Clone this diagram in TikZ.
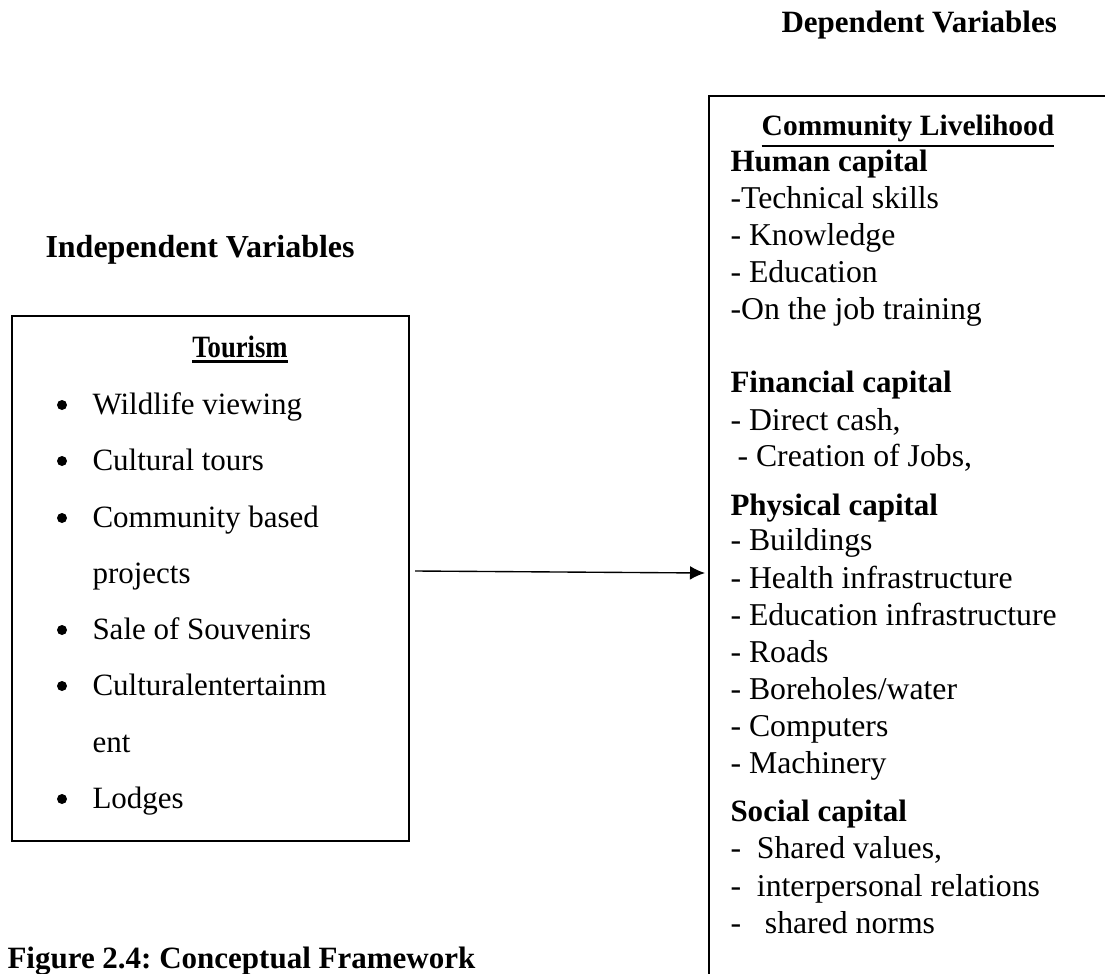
\documentclass[tikz,border=0pt]{standalone}
\usepackage{fontspec}
\setmainfont{Liberation Serif}
\usepackage{graphicx}
\usetikzlibrary{arrows.meta}
\newcommand{\myul}[3]{\leavevmode\vtop{\hbox{#3}\kern#1\hrule height #2}}
\frenchspacing
\begin{document}
\frenchspacing
\begin{tikzpicture}[x=0.4pt,y=-0.4pt,
  txt/.style={anchor=base west,inner sep=0pt,font=\fontsize{12.4}{14}\selectfont},
  rtxt/.style={anchor=base west,inner sep=0pt,font=\fontsize{12.7}{14}\selectfont},
  hd/.style={anchor=base west,inner sep=0pt,font=\fontsize{12.4}{14}\selectfont\bfseries},
  bul/.style={circle,fill=black,inner sep=0pt,minimum size=4pt},
  frame/.style={draw=black,line width=0.7pt},
  link/.style={line width=0.55pt,-{Latex[length=6pt,width=5.5pt]}}]
\useasboundingbox (0,0) rectangle (1105,973);

% headings
\node[hd] (dep) at (781,32) {Dependent Variables};
\node[hd,font=\fontsize{12.8}{14}\selectfont\bfseries] (ind) at (45,257) {Independent Variables};
\node[hd] (fig) at (7,968) {Figure 2.4: Conceptual Framework};

% left box
\node[frame,anchor=north west,minimum width=158.8pt,minimum height=210pt,inner sep=0pt] (tbox) at (11,315) {};
\node[anchor=base,inner sep=0pt,font=\fontsize{12.4}{14}\selectfont\bfseries] (tour) at (240,357)
  {\myul{1.2pt}{1.2pt}{\scalebox{0.86}[1]{Tourism}}};

\node[bul] (b1) at (62,405) {};
\node[bul] (b2) at (62,461) {};
\node[bul] (b3) at (62,518) {};
\node[bul] (b4) at (62,630) {};
\node[bul] (b5) at (62,686) {};
\node[bul] (b6) at (62,799) {};
\node[txt] (t1) at (92,414) {Wildlife viewing};
\node[txt] (t2) at (92,470) {Cultural tours};
\node[txt] (t3) at (92,527) {Community based};
\node[txt] (t3b) at (92,583) {projects};
\node[txt] (t4) at (92,639) {Sale of Souvenirs};
\node[txt] (t5) at (92,695) {Culturalentertainm};
\node[txt] (t5b) at (92,752) {ent};
\node[txt] (t6) at (92,808) {Lodges};

% right box (open on the right, runs off the page)
\coordinate (rtr) at (1120,96);
\coordinate (rtl) at (709,96);
\coordinate (rbl) at (709,990);
\draw[frame] (rtr) -- (rtl) -- (rbl);

\node[anchor=base,inner sep=0pt,font=\fontsize{11.8}{14}\selectfont\bfseries] (cl) at (908,135)
  {\myul{1.5pt}{0.7pt}{Community Livelihood}};
\node[hd] (h1) at (730,171) {Human capital};
\node[rtxt] (h2) at (730,208) {-Technical skills};
\node[rtxt] (h3) at (730,245) {- Knowledge};
\node[rtxt] (h4) at (730,282) {- Education};
\node[rtxt] (h5) at (730,319) {-On the job training};
\node[hd] (f1) at (730,392) {Financial capital};
\node[rtxt] (f2) at (730,430) {- Direct cash,};
\node[rtxt] (f3) at (737,466) {- Creation of Jobs,};
\node[hd] (p1) at (730,515) {Physical capital};
\node[rtxt] (p2) at (730,550) {- Buildings};
\node[rtxt] (p3) at (730,588) {- Health infrastructure};
\node[rtxt] (p4) at (730,625) {- Education infrastructure};
\node[rtxt] (p5) at (730,662) {- Roads};
\node[rtxt] (p6) at (730,699) {- Boreholes/water};
\node[rtxt] (p7) at (730,736) {- Computers};
\node[rtxt] (p8) at (730,773) {- Machinery};
\node[hd] (s1) at (730,821) {Social capital};
\node[rtxt] (s2) at (730,858) {-\ \ Shared values,};
\node[rtxt] (s3) at (730,896) {-\ \ interpersonal relations};
\node[rtxt] (s4) at (730,933) {-\ \ \ shared norms};

% arrow
\coordinate (as) at (415,571);
\coordinate (ae) at (705,573);
\draw[link] (as) -- (ae);
\end{tikzpicture}
\end{document}
